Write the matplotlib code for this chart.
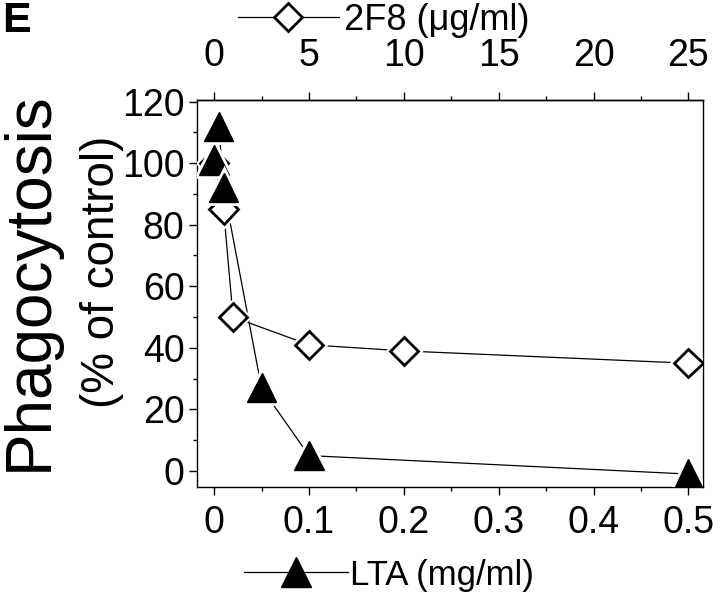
import numpy as np
import matplotlib
matplotlib.use('Agg')
import matplotlib.pyplot as plt
import matplotlib.patheffects as pe
from matplotlib.lines import Line2D

plt.rcParams['font.family'] = ['Liberation Sans', 'DejaVu Sans']

# 2F8 antibody (ug/ml, top axis) -> plotted on LTA scale (x/50)
f8_conc = [0, 0.5, 1, 5, 10, 25]
f8_phago = [100, 85, 50, 41, 39, 35]

# LTA (mg/ml, bottom axis)
lta_conc = [0, 0.005, 0.01, 0.05, 0.1, 0.5]
lta_phago = [101, 112, 92, 27, 5, -1]

x_ticks = [0, 0.1, 0.2, 0.3, 0.4, 0.5]
x_ticklabels = ['0', '0.1', '0.2', '0.3', '0.4', '0.5']
top_ticks = [0, 5, 10, 15, 20, 25]
y_ticks = [0, 20, 40, 60, 80, 100, 120]

fig = plt.figure(figsize=(7.2, 5.96), dpi=100)
ax = fig.add_axes([0.2736, 0.1829, 0.7024, 0.6493])

f8_x = np.array(f8_conc) / 50.0

# lines
ax.plot(f8_x, f8_phago, '-', color='black', lw=0.9, zorder=2)
ax.plot(lta_conc, lta_phago, '-', color='black', lw=0.9, zorder=2)

# markers with a white halo so the lines stop short of them
halo = [pe.withStroke(linewidth=5, foreground='white')]
ax.plot(f8_x, f8_phago, 'D', ms=14.5, mfc='white', mec='black', mew=2.0,
        zorder=3, path_effects=halo)
ax.plot(lta_conc, lta_phago, '^', ms=21, mfc='black', mec='black', mew=1,
        zorder=4, path_effects=halo)

ax.set_xlim(-0.018, 0.515)
ax.set_ylim(-5.2, 120.5)

ax.set_xticks(x_ticks)
ax.set_xticklabels(x_ticklabels)
ax.set_xticks(np.arange(0, 0.51, 0.05), minor=True)
ax.set_yticks(y_ticks)
ax.set_yticks(np.arange(0, 121, 10), minor=True)

ax.tick_params(axis='both', which='major', direction='out', length=6, width=1,
               labelsize=27)
ax.tick_params(axis='both', which='minor', direction='out', length=3, width=1)
ax.tick_params(axis='x', which='both', top=False, pad=7)
ax.tick_params(axis='y', which='both', right=False, pad=3)
for s in ax.spines.values():
    s.set_linewidth(1.0)

# top axis for 2F8
sec = ax.secondary_xaxis('top', functions=(lambda x: x * 50, lambda x: x / 50))
sec.set_xticks(top_ticks)
sec.set_xticks(np.arange(0, 26, 2.5), minor=True)
sec.tick_params(axis='x', which='major', direction='out', length=6, width=1,
                labelsize=27, pad=13)
sec.tick_params(axis='x', which='minor', direction='out', length=3, width=1)
sec.spines['top'].set_linewidth(1.0)

# y label in two sizes
fig.text(30 / 720, 1 - 281 / 596, 'Phagocytosis', rotation=90, fontsize=46,
         ha='center', va='center')
fig.text(102 / 720, 1 - 272 / 596, '(% of control)', rotation=90, fontsize=33,
         ha='center', va='center')

# axis titles drawn as legend entries
h_f8 = Line2D([], [], color='black', lw=0.9, marker='D', ms=14.5, mfc='white',
              mec='black', mew=2.0)
h_lta = Line2D([], [], color='black', lw=0.9, marker='^', ms=21, mfc='black',
               mec='black')
leg1 = fig.legend([h_f8], ['2F8 (\u03bcg/ml)'], loc='center',
                  bbox_to_anchor=(0.533, 1 - 20 / 596), frameon=False,
                  fontsize=26, handlelength=2.8, handletextpad=0.15,
                  borderpad=0, borderaxespad=0)
leg2 = fig.legend([h_lta], ['LTA (mg/ml)'], loc='center',
                  bbox_to_anchor=(0.54, 1 - 575 / 596), frameon=False,
                  fontsize=25, handlelength=3.0, handletextpad=0.05,
                  borderpad=0, borderaxespad=0)

fig.text(2 / 720, 1 - 1 / 596, 'E', fontsize=31, fontweight='bold',
         ha='left', va='top')

plt.savefig('out.png', dpi=100)
plt.close()
